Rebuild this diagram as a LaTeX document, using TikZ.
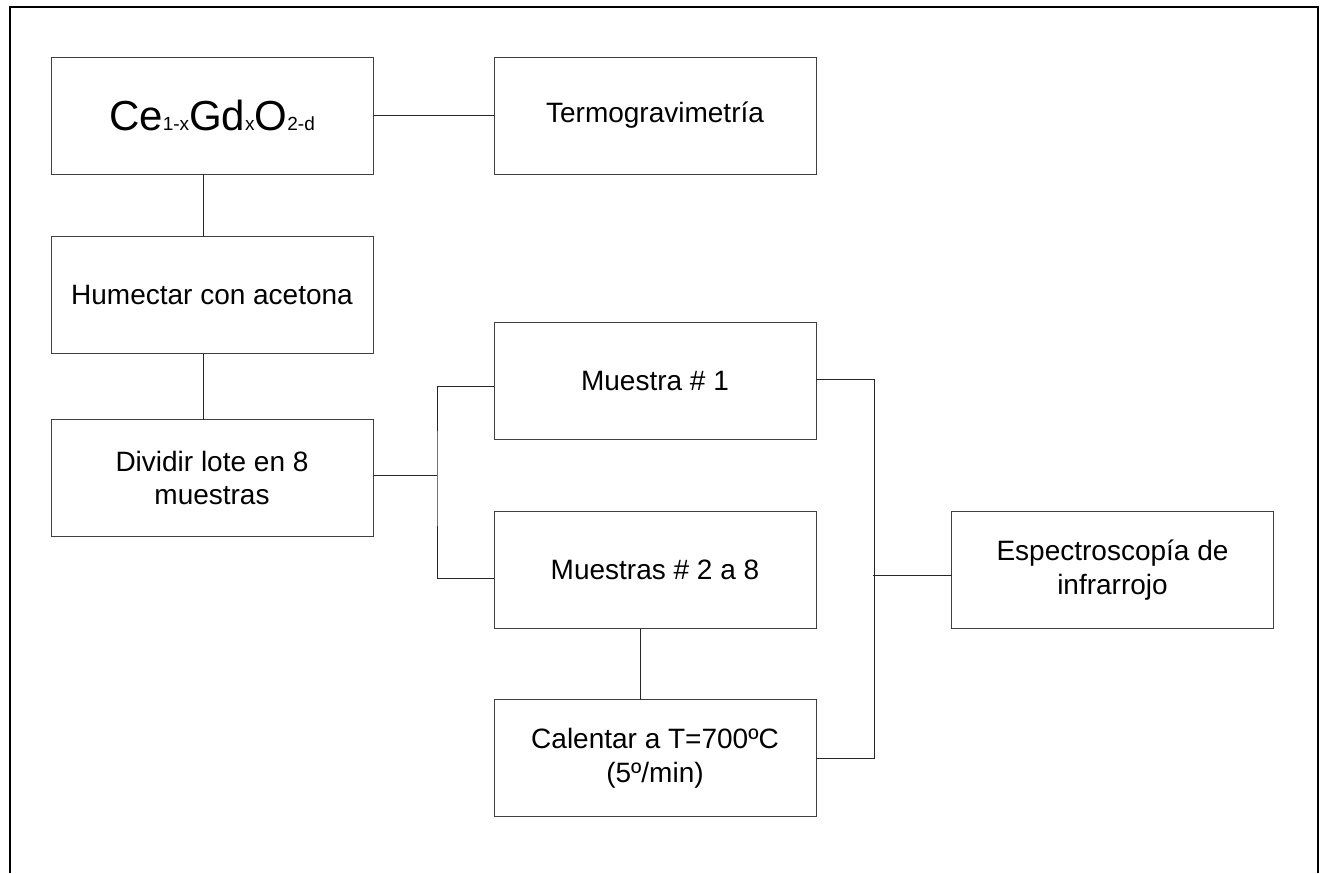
\documentclass[tikz,border=0pt]{standalone}
\usepackage{fontspec}
\setmainfont{Liberation Sans}
\newcommand\chsub[1]{{\fontsize{9.5pt}{10pt}\selectfont #1}}
\begin{document}
\begin{tikzpicture}[x=0.5pt,y=-0.5pt,
    caja/.style={draw=black!75,line width=0.5pt,minimum width=161pt,minimum height=58.5pt,
      inner sep=0pt,outer sep=0pt,align=center,font=\fontsize{14pt}{16.8pt}\selectfont},
    linea/.style={black!85,line width=0.5pt}]
  \useasboundingbox (0,0) rectangle (1320,873);
  \draw[line width=1pt] (10,873)--(10,6.5)--(1318,6.5)--(1318,873);
  % columna izquierda
  \node[caja] (ce) at (212,115.5) {\fontsize{21pt}{24pt}\selectfont Ce\chsub{1-x}Gd\chsub{x}O\chsub{2-d}};
  \node[caja] (termo) at (655,115.5) {Termogravimetría};
  \node[caja] (hum) at (212,295) {Humectar con acetona};
  \node[caja] (div) at (212,478) {Dividir lote en 8\\muestras};
  % muestras
  \node[caja] (m1) at (655,381) {Muestra \# 1};
  \node[caja] (m28) at (655,570) {Muestras \# 2 a 8};
  \node[caja] (cal) at (655,758) {Calentar a T=700ºC\\(5º/min)};
  \node[caja] (esp) at (1112.5,570) {Espectroscopía de\\infrarrojo};
  \begin{scope}[linea]
    \draw (ce) -- (termo);
    \draw ([xshift=-4.5pt]ce.south) -- ([xshift=-4.5pt]hum.north);
    \draw ([xshift=-4.5pt]hum.south) -- ([xshift=-4.5pt]div.north);
    \draw ([yshift=1.5pt]div.east) -- ++(32pt,0) coordinate (split);
    \draw ([yshift=-2.5pt]m1.west) -| (split) |- ([yshift=-4.25pt]m28.west);
    \draw ([xshift=-7.25pt]m28.south) -- ([xshift=-7.25pt]cal.north);
    \draw ([yshift=1pt]m1.east) -- ++(29pt,0) coordinate (merge) |- (cal.east);
    \draw ([yshift=-2.5pt]esp.west) -- ++(-39.5pt,0);
  \end{scope}
\end{tikzpicture}
\end{document}
